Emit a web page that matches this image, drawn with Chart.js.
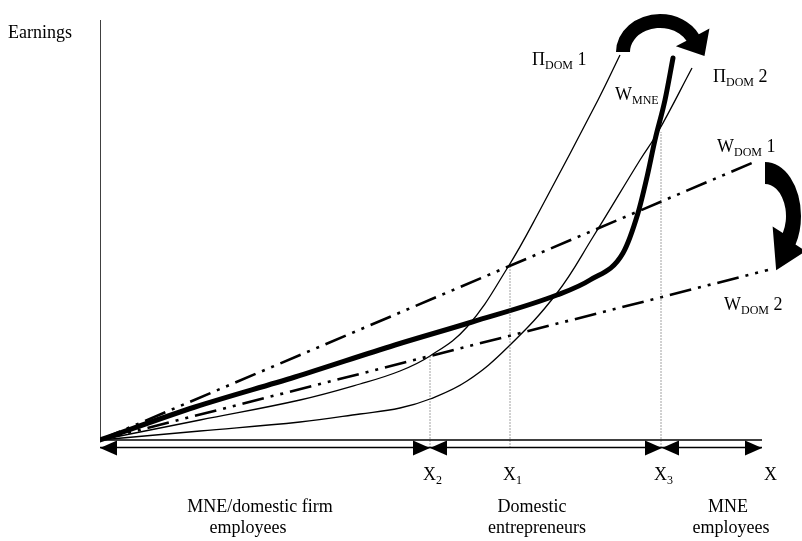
<!DOCTYPE html>
<html>
<head>
<meta charset="utf-8">
<script src="https://cdn.jsdelivr.net/npm/chart.js@4.4.0/dist/chart.umd.min.js"></script>
<style>
  html, body { margin: 0; padding: 0; background: #fff; }
  canvas { display: block; }
</style>
</head>
<body>
<canvas id="chart" width="802" height="541"></canvas>
<script>
// values (x = skill level, y = earnings, arbitrary units)
const piDom1X = [0, 10, 20, 26, 30, 33, 36.7, 40.8, 44, 49.8, 52];
const piDom1Y = [0, 2, 4, 5.6, 6.9, 8.4, 11.3, 17.3, 23, 34, 38.5];

const piDom2X = [0, 10, 20, 26, 30, 33, 36.7, 40.8, 45.7, 49.3, 54, 55.8, 59.2];
const piDom2Y = [0, 0.9, 1.8, 2.6, 3.2, 4.1, 5.9, 9.3, 14.7, 20.3, 28, 30.8, 37.2];

const wMneX = [0, 9.5, 19.5, 29.5, 37.2, 45.7, 49, 52.3, 53.8, 54.7, 55.5, 56.5, 57.3];
const wMneY = [0, 3.3, 6.3, 9.5, 11.8, 14.5, 16, 18.7, 22.7, 26.3, 30, 34, 38.2];

const wDom1X = [0, 65.2];
const wDom1Y = [0, 27.7];
const wDom2X = [0, 66.8];
const wDom2Y = [0, 17];

// threshold skill levels and where their dotted guides stop
const markNames = ["2", "1", "3"];
const markX = [33, 41, 56.1];
const markTop = [8.4, 17.4, 30.8];
const axisEnd = 66.2;
const yAxisTop = 42;

const toPts = (xs, ys) => xs.map((v, i) => ({ x: v, y: ys[i] }));

const dashDotDot = [22, 7, 3, 7, 3, 7];
const serif = '"Liberation Serif", "DejaVu Serif", serif';

function line(data, width, dash, extra) {
  return Object.assign({
    data: data,
    showLine: true,
    borderColor: "#000",
    borderWidth: width,
    borderDash: dash || [],
    pointRadius: 0,
    fill: false
  }, extra || {});
}

const datasets = [
  line([{ x: 0, y: 0 }, { x: 0, y: yAxisTop }], 1.5),
  line([{ x: 0, y: 0 }, { x: axisEnd, y: 0 }], 1.5),
  line([{ x: 0, y: -0.75 }, { x: axisEnd, y: -0.75 }], 1.5),
  ...markX.map((v, i) => line([{ x: v, y: -0.75 }, { x: v, y: markTop[i] }], 1, [1, 2], { borderColor: "#444" })),
  line(toPts(wDom1X, wDom1Y), 2.6, dashDotDot),
  line(toPts(wDom2X, wDom2Y), 2.6, dashDotDot),
  line(toPts(piDom1X, piDom1Y), 1.3, null, { tension: 0.4 }),
  line(toPts(piDom2X, piDom2Y), 1.3, null, { tension: 0.4 }),
  line(toPts(wMneX, wMneY), 5, null, { cubicInterpolationMode: "monotone", borderCapStyle: "round" })
];

// text with subscripts: parts = [[text, isSub], ...]
function richText(ctx, parts, x, y, size) {
  let cx = x;
  parts.forEach(([t, sub]) => {
    ctx.font = (sub ? Math.round(size * 0.68) : size) + "px " + serif;
    ctx.fillText(t, cx, sub ? y + 4 : y);
    cx += ctx.measureText(t).width;
  });
}

function bandArrow(ctx, cx, cy, o, inn, a0, a1, headW, headLen) {
  const c = Math.cos(a1), s = Math.sin(a1);
  const mx = (o[0] + inn[0]) / 2, my = (o[1] + inn[1]) / 2;
  let tx = -mx * s, ty = my * c;
  const L = Math.hypot(tx, ty);
  tx /= L; ty /= L;
  const mid = [cx + mx * c, cy + my * s];
  ctx.beginPath();
  ctx.ellipse(cx, cy, o[0], o[1], 0, a0, a1, false);
  ctx.lineTo(cx + (o[0] + headW) * c, cy + (o[1] + headW) * s);
  ctx.lineTo(mid[0] + tx * headLen, mid[1] + ty * headLen);
  ctx.lineTo(cx + (inn[0] - headW) * c, cy + (inn[1] - headW) * s);
  ctx.ellipse(cx, cy, inn[0], inn[1], 0, a1, a0, true);
  ctx.closePath();
  ctx.fill();
}

const deg = Math.PI / 180;

const annotations = {
  id: "annotations",
  afterDatasetsDraw(chart) {
    const { ctx, scales: { x, y } } = chart;
    const px = v => x.getPixelForValue(v);
    const py = v => y.getPixelForValue(v);
    ctx.save();
    ctx.fillStyle = "#000";

    // arrowheads on the lower axis line
    const ay = py(-0.8);
    const heads = [[0, -1], [markX[0], 1], [markX[0], -1], [markX[2] + 0.1, 1], [markX[2] + 0.1, -1], [axisEnd, 1]];
    heads.forEach(([v, dir]) => {
      const tx = px(v);
      ctx.beginPath();
      ctx.moveTo(tx, ay);
      ctx.lineTo(tx - dir * 17, ay - 7.5);
      ctx.lineTo(tx - dir * 17, ay + 7.5);
      ctx.closePath();
      ctx.fill();
    });

    // big curved arrows
    bandArrow(ctx, px(56), py(38.8), [44, 38], [30, 24], 180 * deg, 332 * deg, 12, 22);
    bandArrow(ctx, px(66.5), py(22.4), [36, 54], [21, 32], 270 * deg, 392 * deg, 12, 34);

    ctx.textBaseline = "alphabetic";
    ctx.textAlign = "left";
    const fs = 18;

    // axis titles
    richText(ctx, [["Earnings", false]], 8, py(40.2), fs);
    richText(ctx, [["X", false]], px(66.4), py(-4), fs);
    markX.forEach((v, i) => {
      richText(ctx, [["X", false], [markNames[i], true]], px(v) - 7, py(-4), fs);
    });

    // curve labels
    richText(ctx, [["Π", false], ["DOM", true], [" 1", false]], px(43.2), py(37.5), fs);
    richText(ctx, [["W", false], ["MNE", true]], px(51.5), py(34), fs);
    richText(ctx, [["Π", false], ["DOM", true], [" 2", false]], px(61.3), py(35.8), fs);
    richText(ctx, [["W", false], ["DOM", true], [" 1", false]], px(61.7), py(28.8), fs);
    richText(ctx, [["W", false], ["DOM", true], [" 2", false]], px(62.4), py(13), fs);

    // group labels under the axis
    ctx.font = fs + "px " + serif;
    ctx.textAlign = "center";
    const groups = [
      ["MNE/domestic firm", 16, -7.2], ["employees", 14.8, -9.3],
      ["Domestic", 43.2, -7.2], ["entrepreneurs", 43.7, -9.3],
      ["MNE", 62.8, -7.2], ["employees", 63.1, -9.3]
    ];
    groups.forEach(([t, gx, gy]) => ctx.fillText(t, px(gx), py(gy)));
    ctx.restore();
  }
};

new Chart(document.getElementById("chart"), {
  type: "scatter",
  data: { datasets: datasets },
  options: {
    responsive: false,
    animation: false,
    layout: { padding: { left: 100, right: 22, top: 20, bottom: 81 } },
    plugins: { legend: { display: false }, tooltip: { enabled: false } },
    scales: {
      x: { type: "linear", min: 0, max: 68, display: false },
      y: { type: "linear", min: -2, max: 42, display: false }
    }
  },
  plugins: [annotations]
});
</script>
</body>
</html>
